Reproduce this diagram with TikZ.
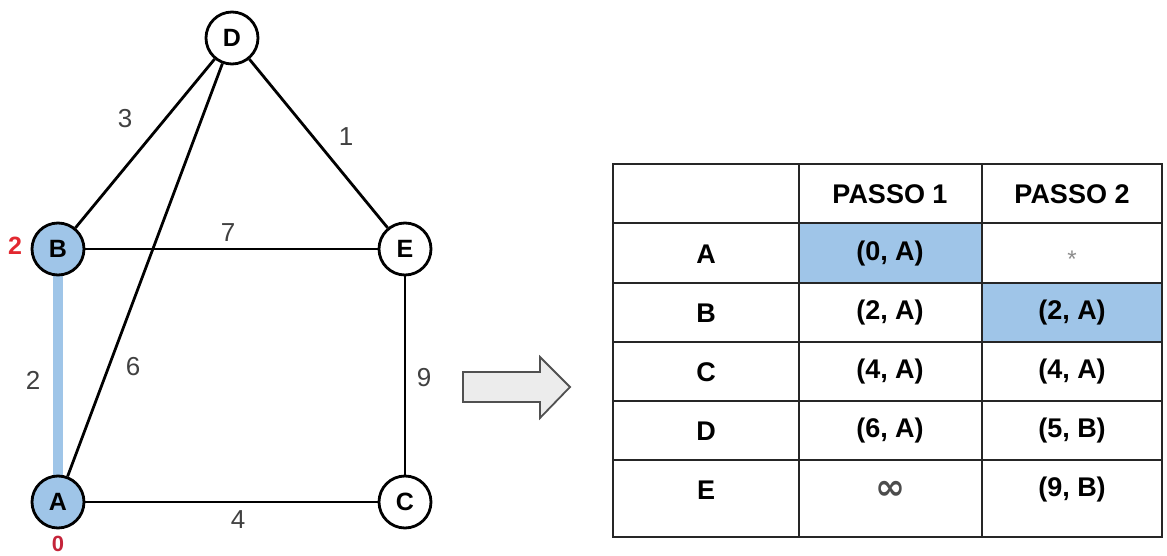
\documentclass[tikz,border=0pt]{standalone}
\usepackage{fontspec}
\setmainfont{Liberation Sans}
\newfontfamily\dejavu{DejaVu Sans}
\definecolor{hlblue}{RGB}{159,197,232}
\definecolor{lblgray}{RGB}{64,64,64}
\definecolor{redA}{RGB}{226,40,48}
\definecolor{redB}{RGB}{196,36,58}
\definecolor{arrfill}{RGB}{236,236,236}
\definecolor{arrdraw}{RGB}{80,80,80}
\begin{document}
\begin{tikzpicture}[x=1pt,y=-1pt,
  vertex/.style={circle,draw=black,line width=2.8pt,minimum size=52pt,inner sep=0pt,fill=white,font=\fontsize{25}{27}\selectfont\bfseries},
  visited/.style={vertex,fill=hlblue},
  edge/.style={line width=2.8pt,draw=black},
  wlabel/.style={font=\fontsize{26}{28}\selectfont,text=lblgray,inner sep=0pt},
  distlabel/.style={font=\fontsize{25}{27}\selectfont\bfseries,inner sep=0pt},
  cell/.style={font=\fontsize{27}{29}\selectfont\bfseries,inner sep=0pt},
  grid/.style={line width=2.8pt,draw=black!85}
]
\useasboundingbox (0,0) rectangle (1167,556);
% ---- graph ----
\draw[line width=10pt,draw=hlblue] (58,250) -- (58,502);
\node[vertex]  (D) at (232,38) {D};
\node[visited] (B) at (58,249) {B};
\node[vertex]  (E) at (405,249) {E};
\node[visited] (A) at (58,502) {A};
\node[vertex]  (C) at (405,502) {C};
\draw[edge] (D) -- (B);
\draw[edge] (D) -- (E);
\draw[edge] (D) -- (A);
\draw[edge] (B) -- (E);
\draw[edge] (E) -- (C);
\draw[edge] (A) -- (C);
\node[wlabel] (w3) at (125,119) {3};
\node[wlabel] (w1) at (346,137) {1};
\node[wlabel] (w7) at (228,233) {7};
\node[wlabel] (w2) at (33,380) {2};
\node[wlabel] (w6) at (133,367) {6};
\node[wlabel] (w9) at (424,378) {9};
\node[wlabel] (w4) at (238,520) {4};
\node[distlabel,text=redA] (dB) at (15,246) {2};
\node[distlabel,text=redB,font=\fontsize{22}{24}\selectfont\bfseries] (dA) at (58,544) {0};
% ---- arrow ----
\draw[fill=arrfill,draw=arrdraw,line width=1.8pt,line join=miter]
  (463,372) -- (540,372) -- (540,357) -- (570,387) -- (540,418) -- (540,402) -- (463,402) -- cycle;
% ---- table ----
\fill[hlblue] (799,223) rectangle (982,283);
\fill[hlblue] (982,283) rectangle (1162,342);
\draw[grid] (613,164) rectangle (1162,537);
\foreach \y in {223,283,342,401,460} \draw[grid] (613,\y) -- (1162,\y);
\foreach \x in {799,982} \draw[grid] (\x,164) -- (\x,537);
\node[cell] (h1) at (890,194) {PASSO 1};
\node[cell] (h2) at (1072,194) {PASSO 2};
\node[cell] (rA) at (706,254) {A};
\node[cell] (rB) at (706,313) {B};
\node[cell] (rC) at (706,372) {C};
\node[cell] (rD) at (706,431) {D};
\node[cell] (rE) at (706,490) {E};
\node[cell] (a1) at (890,254) {(0, A)};
\node[cell,text=black!45,font=\fontsize{24}{26}\selectfont] (a2) at (1072,259) {*};
\node[cell] (b1) at (890,313) {(2, A)};
\node[cell] (b2) at (1072,313) {(2, A)};
\node[cell] (c1) at (890,372) {(4, A)};
\node[cell] (c2) at (1072,372) {(4, A)};
\node[cell] (d1) at (890,431) {(6, A)};
\node[cell] (d2) at (1072,431) {(5, B)};
\node[cell,text=black!70,font=\dejavu\bfseries\fontsize{36}{38}\selectfont] (e1) at (890,490) {∞};
\node[cell] (e2) at (1072,490) {(9, B)};
\end{tikzpicture}
\end{document}
